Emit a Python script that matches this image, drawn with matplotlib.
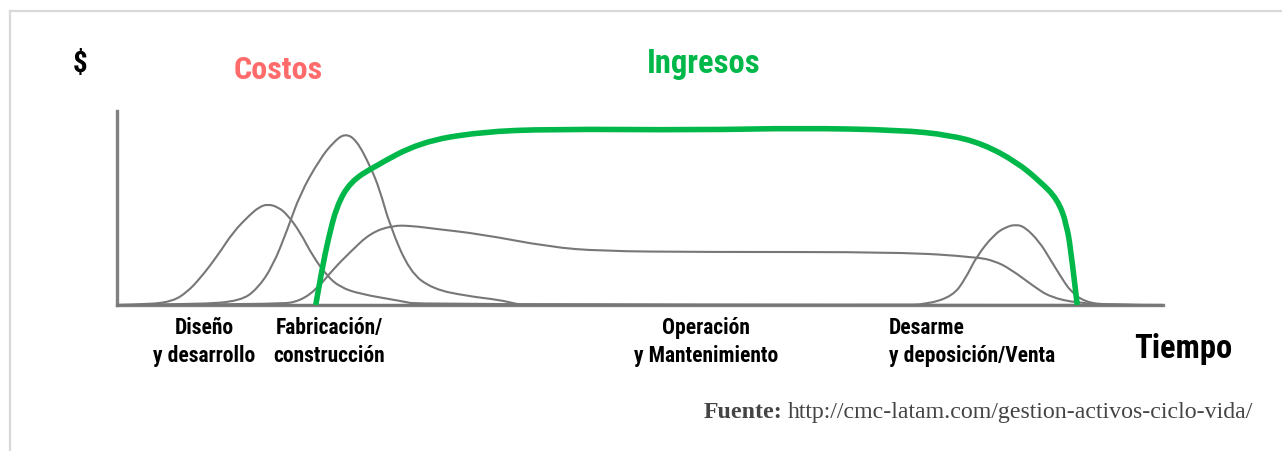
import matplotlib
matplotlib.use("Agg")
import matplotlib.pyplot as plt
from matplotlib.lines import Line2D
from matplotlib.path import Path
from matplotlib.patches import PathPatch
import matplotlib.font_manager as fm

# ---- data (time 0..100, value 0..100) ----
design_t = [0, 3.2, 5.4, 6.7, 7.9, 9.6, 11.1, 12.7, 13.6, 14.4, 15.4, 16.3, 17.5, 18.7, 20.1, 21.3, 23.2, 27.1, 29.0, 100]
design_v = [0, 0.3, 2.1, 6.7, 13.4, 25.3, 37.6, 46.5, 50.5, 52.0, 50.5, 46.5, 37.6, 25.3, 14.9, 9.3, 5.7, 2.1, 0, 0]

fab_t = [0, 7.9, 11.8, 13.4, 14.9, 16.3, 17.5, 19.4, 20.7, 21.8, 22.9, 24.2, 25.1, 26.1, 28.0, 30.2, 33.5, 36.6, 38.2, 39.0, 100]
fab_v = [0, 0.3, 2.1, 8.2, 20.1, 39.0, 57.2, 75.3, 84.0, 88.5, 85.0, 71.6, 59.8, 40.7, 17.0, 8.2, 4.6, 2.6, 0.5, 0, 0]

oper_t = [0, 15.6, 17.5, 19.1, 20.7, 22.3, 24.2, 26.3, 28.2, 30.5, 34.7, 41.4, 46.2, 55.7, 74.9, 82.2, 83.9, 85.4, 87.6, 89.2, 91.8, 95.6, 100]
oper_v = [0, 0.3, 2.1, 8.2, 18.6, 27.3, 37.0, 41.0, 40.8, 39.2, 36.6, 29.9, 27.8, 27.3, 27.3, 24.7, 22.7, 18.6, 9.8, 4.1, 1.0, 0, 0]

disp_t = [0, 74.9, 77.4, 79.9, 81.1, 82.2, 83.9, 85.0, 85.9, 86.8, 88.2, 89.2, 90.2, 91.2, 92.6, 94.6, 100]
disp_v = [0, 0, 0.3, 4.6, 13.4, 25.3, 36.6, 40.2, 41.5, 40.2, 32.5, 23.7, 14.9, 6.7, 1.5, 0, 0]

ingresos_t = [19.0, 19.6, 20.2, 21.0, 22.3, 24.5, 29.0, 34.7, 41.4, 55.7, 65.3, 74.9, 79.6, 82.8, 86.0, 88.2, 89.9, 90.8, 91.3, 91.8]
ingresos_v = [0, 18.6, 34.0, 51.0, 63.4, 71.1, 84.0, 89.2, 90.7, 90.2, 91.2, 90.2, 87.6, 83.0, 73.7, 63.9, 54.6, 41.8, 23.7, 0]

phase_labels = ["Diseño\ny desarrollo", "Fabricación/\nconstrucción",
                "Operación\ny Mantenimiento", "Desarme\ny deposición/Venta"]
title_costos = "Costos"
title_ingresos = "Ingresos"
y_label = "$"
x_label = "Tiempo"
source_bold = "Fuente:"
source_url = "http://cmc-latam.com/gestion-activos-ciclo-vida/"

# ---- fonts ----
installed = {f.name for f in fm.fontManager.ttflist}
cond = [f for f in ["Roboto Condensed", "Liberation Sans Narrow", "Roboto", "DejaVu Sans"] if f in installed]
serif = [f for f in ["Liberation Serif", "DejaVu Serif"] if f in installed]

W, H = 1282, 452
fig = plt.figure(figsize=(W / 100, H / 100), dpi=100)
fig.patch.set_facecolor("white")


def fx(x):
    return x / W


def fy(y):
    return 1 - y / H


def smooth_curve(ax, t, v, **kw):
    """Quadratic B-spline path with the data points as control points."""
    pts = list(zip(t, v))
    n = len(pts)
    verts = [pts[0]]
    codes = [Path.MOVETO]
    for i in range(1, n - 1):
        ctrl = pts[i]
        if i < n - 2:
            end = ((pts[i][0] + pts[i + 1][0]) / 2, (pts[i][1] + pts[i + 1][1]) / 2)
        else:
            end = pts[n - 1]
        verts += [ctrl, end]
        codes += [Path.CURVE3, Path.CURVE3]
    patch = PathPatch(Path(verts, codes), facecolor="none", clip_on=False, **kw)
    ax.add_patch(patch)
    return patch


# light frame (top and left)
fig.add_artist(Line2D([fx(9.5), 1.0], [fy(11.5), fy(11.5)], color="#d9d9d9", lw=1.6, transform=fig.transFigure))
fig.add_artist(Line2D([fx(9.5), fx(9.5)], [fy(11.5), 0.0], color="#d9d9d9", lw=1.6, transform=fig.transFigure))

left, right, top, bottom = 117, 1163, 112, 306
ax = fig.add_axes([fx(left), fy(bottom), fx(right - left), fy(top) - fy(bottom)])
ax.set_xlim(0, 100)
ax.set_ylim(0, 100)
for s in ["top", "right"]:
    ax.spines[s].set_visible(False)
for s in ["left", "bottom"]:
    ax.spines[s].set_color("#808080")
    ax.spines[s].set_linewidth(2.4)
    ax.spines[s].set_zorder(1)
ax.set_xticks([])
ax.set_yticks([])
ax.patch.set_alpha(0)

gray = "#777777"
for t, v in [(design_t, design_v), (fab_t, fab_v), (oper_t, oper_v), (disp_t, disp_v)]:
    smooth_curve(ax, t, v, edgecolor=gray, lw=1.5, zorder=2)
smooth_curve(ax, ingresos_t, ingresos_v, edgecolor="#00b84a", lw=4.0, capstyle="butt", zorder=3)

# texts
fig.text(fx(80), fy(64), y_label, family=cond, weight="bold", fontsize=21, ha="center", va="center", color="black")
fig.text(fx(278), fy(70), title_costos, family=cond, weight="bold", fontsize=23, ha="center", va="center", color="#ff6b6b")
fig.text(fx(704), fy(64), title_ingresos, family=cond, weight="bold", fontsize=23.5, ha="center", va="center", color="#00b84a")

lab_kw = dict(family=cond, weight="bold", fontsize=15.5, va="center", color="black", linespacing=1.3)
fig.text(fx(204), fy(342), phase_labels[0], ha="center", multialignment="center", **lab_kw)
fig.text(fx(329), fy(342), phase_labels[1], ha="center", multialignment="center", **lab_kw)
fig.text(fx(706), fy(342), phase_labels[2], ha="center", multialignment="center", **lab_kw)
fig.text(fx(889), fy(342), phase_labels[3], ha="left", multialignment="left", **lab_kw)

fig.text(fx(1183), fy(349), x_label, family=cond, weight="bold", fontsize=23.5, ha="center", va="center", color="black")

t1 = fig.text(fx(1253), fy(413), source_url, family=serif, fontsize=17.2, ha="right", va="center", color="#444444")
fig.canvas.draw()
bb = t1.get_window_extent()
fig.text(bb.x0 / W - 5 / W, fy(413), source_bold, family=serif, weight="bold", fontsize=17.2,
         ha="right", va="center", color="#444444")

fig.savefig("out.png", dpi=100)
